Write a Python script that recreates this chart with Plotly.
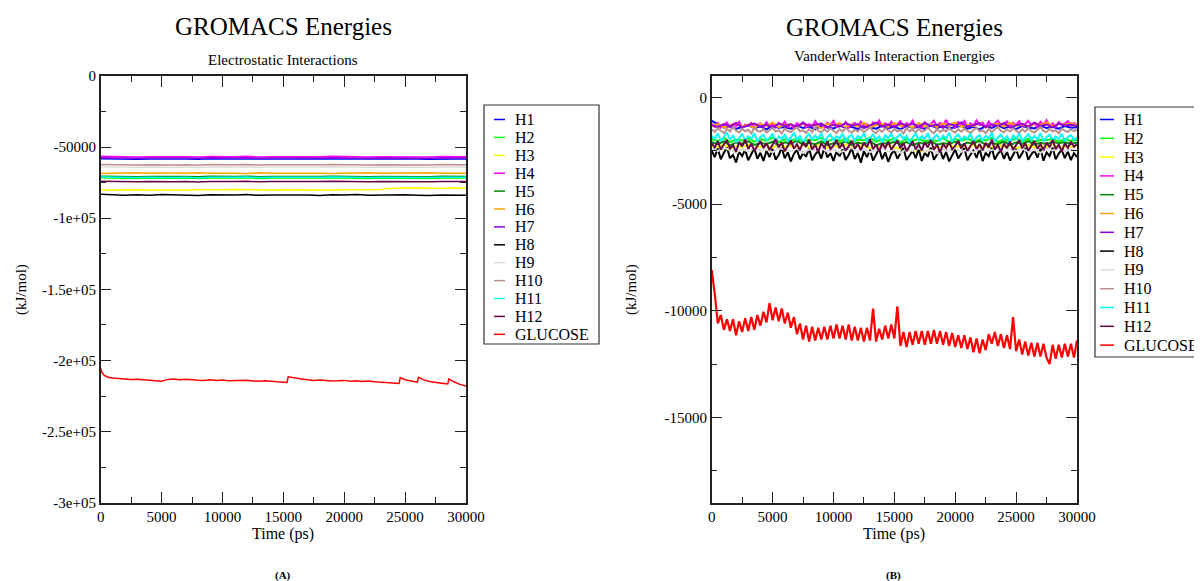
import numpy as np
import plotly.graph_objects as go

# page offset of the figure inside the html body (default 8px body margin)
OFF = 8
PAGE_W, PAGE_H = 1202, 581
W, H = PAGE_W - OFF, PAGE_H - OFF
FONT = "Liberation Serif, 'Times New Roman', Times, serif"

NAMES = ["H1", "H2", "H3", "H4", "H5", "H6", "H7", "H8", "H9", "H10", "H11", "H12", "GLUCOSE"]
COLORS = ["#0000ff", "#00ff00", "#ffff00", "#ff00ff", "#008b00", "#ffa500", "#9400d3",
          "#000000", "#dcdcdc", "#bc8f8f", "#00ffff", "#670748", "#ff0000"]

# ---------------- (A) Electrostatic interactions (kJ/mol), sampled every 1000 ps ----------------
ELEC_H1 = [-58100,-58400,-58200,-58500,-58300,-58200,-58400,-58300,-58600,-58200,-58400,-58300,-58100,-58500,-58300,-58400,-58200,-58500,-58300,-58100,-58400,-58200,-58500,-58300,-58400,-58100,-58300,-58500,-58200,-58400,-58300]
ELEC_H2 = [-71600,-71900,-71700,-72000,-71800,-71600,-71900,-71800,-72100,-71700,-71900,-71800,-71600,-72000,-71800,-71900,-71700,-72000,-71800,-71600,-71900,-71700,-72000,-71800,-71900,-71600,-71800,-72000,-71700,-71900,-71800]
ELEC_H3 = [-80200,-80000,-80300,-79900,-80100,-80200,-79800,-80100,-79900,-80200,-80000,-79800,-80100,-80000,-80200,-79900,-80100,-79800,-80000,-80200,-79900,-80100,-80000,-79800,-79000,-78800,-79000,-78700,-78900,-78800,-78900]
ELEC_H4 = [-56500,-56800,-56600,-56900,-56700,-56500,-56800,-56700,-57000,-56600,-56800,-56700,-56500,-56900,-56700,-56800,-56600,-56900,-56700,-56500,-56800,-56600,-56900,-56700,-56800,-56500,-56700,-56900,-56600,-56800,-56700]
ELEC_H5 = [-70400,-70700,-70500,-70800,-70600,-70400,-70700,-70600,-70900,-70500,-70700,-70600,-70400,-70800,-70600,-70700,-70500,-70800,-70600,-70400,-70700,-70500,-70800,-70600,-70700,-70400,-70600,-70800,-70500,-70700,-70600]
ELEC_H6 = [-68500,-68200,-68400,-68100,-68300,-68500,-68200,-68300,-68000,-68400,-68200,-68300,-68500,-68100,-68300,-68200,-68400,-68100,-68300,-68500,-68200,-68400,-68100,-68300,-68200,-68500,-68300,-68100,-68400,-68200,-68300]
ELEC_H7 = [-57400,-57700,-57500,-57800,-57600,-57400,-57700,-57600,-57900,-57500,-57700,-57600,-57400,-57800,-57600,-57700,-57500,-57800,-57600,-57400,-57700,-57500,-57800,-57600,-57700,-57400,-57600,-57800,-57500,-57700,-57600]
ELEC_H8 = [-83200,-83600,-83900,-83500,-83800,-83400,-83700,-83600,-84000,-83500,-83800,-83600,-83400,-83900,-83700,-83500,-83800,-83600,-84000,-83500,-83700,-83400,-83800,-83600,-83900,-83500,-83800,-84100,-83700,-84000,-83800]
ELEC_H9 = [-63800,-64100,-63900,-64200,-64000,-63800,-64100,-64000,-64300,-63900,-64100,-64000,-63800,-64200,-64000,-64100,-63900,-64200,-64000,-63800,-64100,-63900,-64200,-64000,-64100,-63800,-64000,-64200,-63900,-64100,-64000]
ELEC_H10 = [-62200,-62500,-62300,-62600,-62400,-62200,-62500,-62400,-62700,-62300,-62500,-62400,-62200,-62600,-62400,-62500,-62300,-62600,-62400,-62200,-62500,-62300,-62600,-62400,-62500,-62200,-62400,-62600,-62300,-62500,-62400]
ELEC_H11 = [-71000,-71300,-71100,-71400,-71200,-71000,-71300,-71200,-71500,-71100,-71300,-71200,-71000,-71400,-71200,-71300,-71100,-71400,-71200,-71000,-71300,-71100,-71400,-71200,-71300,-71000,-71200,-71400,-71100,-71300,-71200]
ELEC_H12 = [-74000,-74300,-74100,-74400,-74200,-74000,-74300,-74200,-74500,-74100,-74300,-74200,-74000,-74400,-74200,-74300,-74100,-74400,-74200,-74000,-74300,-74100,-74400,-74200,-74300,-74000,-74200,-74400,-74100,-74300,-74200]
ELEC_TIME = [0,1000,2000,3000,4000,5000,6000,7000,8000,9000,10000,11000,12000,13000,14000,15000,
             16000,17000,18000,19000,20000,21000,22000,23000,24000,25000,26000,27000,28000,29000,30000]

ELEC_GLU_TIME = [0,100,300,600,1000,1500,2000,2500,3000,3500,4000,4500,5000,5500,6000,6500,7000,7500,
                 8000,8500,9000,9500,10000,10500,11000,11500,12000,12500,13000,13500,14000,14500,15000,
                 15300,15400,16000,16500,17000,17500,18000,18500,19000,19500,20000,20500,21000,21500,
                 22000,22500,23000,23500,24000,24500,24600,25000,25500,26000,26100,26500,27000,27500,
                 28000,28500,28600,29000,29500,30000]
ELEC_GLU = [-205500,-208500,-210500,-211800,-212300,-212700,-213000,-213300,-213200,-213700,-214000,
            -214200,-214600,-213300,-213000,-213500,-213200,-213800,-213900,-214100,-213600,-214000,
            -213800,-214300,-214000,-214200,-213900,-214400,-214600,-214200,-214800,-215000,-215300,
            -215500,-211500,-212500,-213000,-213600,-214000,-213800,-214200,-214500,-214300,-214000,
            -214600,-214300,-214800,-214500,-215000,-215300,-215600,-215800,-216200,-212000,-213500,
            -214500,-215300,-211800,-213500,-214800,-215600,-216000,-216500,-213000,-215000,-216800,-218000]

# ---------------- (B) Van der Waals interaction energies (kJ/mol), evenly sampled over 0-30000 ps ----------------
VDW_H1 = [-1100,-1250,-1420,-1350,-1480,-1380,-1300,-1450,-1360,-1500,-1330,-1420,-1390,-1470,-1310,-1440,-1370,-1500,-1340,-1410,
          -1460,-1320,-1430,-1380,-1490,-1350,-1400,-1470,-1330,-1450,-1370,-1500,-1340,-1420,-1390,-1480,-1310,-1440,-1360,-1460,
          -1400,-1330,-1470,-1380,-1500,-1350,-1430,-1300,-1450,-1370,-1490,-1340,-1410,-1460,-1320,-1440,-1380,-1470,-1350,-1420,-1400]
VDW_H2 = [-1950,-2050,-1900,-2100,-1980,-2020,-1920,-2080,-1960,-2040,-1890,-2110,-1970,-2030,-1940,-2070,-1990,-2010,-1910,-2090,
          -1950,-2060,-1930,-2100,-1980,-2020,-1900,-2080,-1970,-2040,-1920,-2110,-1960,-2030,-1940,-2070,-1990,-2050,-1910,-2090,
          -1960,-2030,-1930,-2080,-1980,-2020,-1900,-2100,-1970,-2040,-1920,-2060,-1950,-2090,-1990,-2010,-1940,-2070,-1960,-2050,-2000]
VDW_H3 = [-2250,-2350,-2200,-2400,-2280,-2330,-2220,-2380,-2300,-2260,-2360,-2210,-2320,-2270,-2390,-2240,-2340,-2290,-2230,-2370,
          -2280,-2330,-2210,-2360,-2300,-2250,-2390,-2270,-2320,-2230,-2350,-2400,-2460,-2520,-2480,-2550,-2420,-2300,-2360,-2250,
          -2330,-2280,-2390,-2230,-2340,-2290,-2370,-2220,-2310,-2260,-2380,-2300,-2240,-2350,-2270,-2330,-2210,-2360,-2290,-2320,-2280]
VDW_H4 = [-1250,-1380,-1200,-1420,-1300,-1180,-1400,-1260,-1350,-1150,-1420,-1280,-1330,-1200,-1440,-1290,-1220,-1380,-1170,-1350,
          -1260,-1410,-1200,-1330,-1150,-1390,-1270,-1440,-1210,-1310,-1180,-1400,-1250,-1360,-1120,-1330,-1230,-1420,-1190,-1300,
          -1100,-1380,-1240,-1350,-1160,-1410,-1280,-1200,-1370,-1140,-1320,-1250,-1430,-1180,-1300,-1080,-1360,-1220,-1400,-1150,
          -1340,-1260,-1120,-1390,-1210,-1300,-1090,-1370,-1230,-1420,-1170,-1330,-1250,-1100,-1380,-1200,-1310,-1060,-1350,-1240,
          -1410,-1160,-1290,-1110,-1370,-1220,-1330,-1080,-1300,-1190,-1400,-1140,-1350,-1230,-1090,-1320,-1270,-1130,-1380,-1200,
          -1300,-1120,-1360,-1250,-1100,-1330,-1210,-1390,-1150,-1280,-1070,-1340,-1220,-1380,-1160,-1300,-1240,-1110,-1350,-1200,-1290]
VDW_H5 = [-2100,-2200,-2060,-2250,-2120,-2180,-2050,-2230,-2140,-2190,-2080,-2260,-2110,-2170,-2040,-2220,-2130,-2200,-2070,-2240,
          -2150,-2180,-2060,-2230,-2120,-2190,-2050,-2250,-2140,-2170,-2080,-2210,-2100,-2240,-2130,-2180,-2060,-2220,-2150,-2190,
          -2070,-2250,-2120,-2170,-2040,-2230,-2140,-2200,-2060,-2240,-2110,-2180,-2050,-2220,-2130,-2190,-2080,-2150,-2100,-2200,-2120]
VDW_H6 = [-1350,-1250,-1420,-1300,-1200,-1380,-1280,-1440,-1230,-1350,-1180,-1400,-1300,-1260,-1420,-1220,-1350,-1290,-1450,-1240,
          -1320,-1200,-1400,-1270,-1360,-1190,-1420,-1300,-1250,-1380,-1210,-1340,-1280,-1430,-1200,-1360,-1260,-1400,-1220,-1320,
          -1180,-1380,-1270,-1340,-1200,-1410,-1290,-1230,-1370,-1190,-1330,-1260,-1400,-1220,-1300,-1170,-1350,-1240,-1280,-1200,-1300]
VDW_H7 = [-1300,-1400,-1250,-1360,-1200,-1420,-1310,-1230,-1380,-1280,-1440,-1220,-1340,-1260,-1400,-1190,-1350,-1300,-1230,-1410,
          -1280,-1370,-1210,-1330,-1250,-1440,-1300,-1190,-1360,-1270,-1410,-1220,-1320,-1240,-1390,-1200,-1350,-1280,-1430,-1250,
          -1330,-1180,-1380,-1290,-1220,-1400,-1260,-1350,-1200,-1420,-1310,-1240,-1370,-1190,-1340,-1270,-1410,-1230,-1320,-1280,-1350]
VDW_H8 = [-2500,-2800,-2400,-2900,-2600,-2350,-2850,-2700,-3050,-2550,-2750,-2450,-2950,-2650,-2380,-2880,-2600,-2980,-2500,-2800,
          -2420,-2920,-2700,-2360,-2860,-2580,-3000,-2650,-2450,-2900,-2600,-2780,-2400,-2950,-2680,-2500,-2870,-2350,-2820,-2620,
          -2980,-2550,-2760,-2440,-2930,-2700,-2380,-2890,-2610,-3060,-2520,-2800,-2460,-2960,-2680,-2400,-2900,-2580,-3020,-2650,
          -2480,-2880,-2620,-2380,-2940,-2700,-2500,-2850,-2420,-2980,-2600,-2780,-2360,-2920,-2660,-2450,-2890,-2560,-3000,-2700,
          -2440,-2870,-2620,-2390,-2950,-2680,-2500,-2840,-2410,-2990,-2600,-2760,-2370,-2910,-2650,-2470,-2880,-2550,-2960,-2690,
          -2430,-2860,-2600,-2380,-2930,-2670,-2490,-2830,-2400,-2970,-2580,-2750,-2360,-2900,-2640,-2460,-2850,-2540,-2940,-2620,-2800]
VDW_H9 = [-2400,-2520,-2350,-2480,-2600,-2420,-2550,-2380,-2500,-2450,-2580,-2360,-2470,-2530,-2400,-2610,-2440,-2500,-2370,-2560,
          -2430,-2590,-2460,-2380,-2520,-2410,-2570,-2480,-2350,-2540,-2460,-2600,-2420,-2510,-2390,-2550,-2470,-2620,-2440,-2500,
          -2380,-2560,-2450,-2590,-2410,-2530,-2470,-2360,-2580,-2440,-2510,-2400,-2550,-2460,-2600,-2420,-2490,-2370,-2540,-2450,-2500]
VDW_H10 = [-1500,-1620,-1450,-1580,-1680,-1480,-1600,-1400,-1560,-1650,-1470,-1590,-1520,-1690,-1440,-1570,-1610,-1490,-1650,-1530,
           -1420,-1600,-1540,-1700,-1460,-1580,-1630,-1500,-1410,-1590,-1550,-1670,-1480,-1620,-1390,-1560,-1640,-1510,-1600,-1450,
           -1580,-1680,-1490,-1610,-1430,-1570,-1660,-1520,-1600,-1460,-1640,-1540,-1400,-1590,-1680,-1500,-1620,-1450,-1570,-1650,
           -1480,-1600,-1530,-1700,-1440,-1590,-1510,-1660,-1470,-1620,-1550,-1410,-1580,-1690,-1490,-1630,-1520,-1600,-1430,-1570,
           -1650,-1500,-1610,-1460,-1580,-1680,-1530,-1420,-1600,-1550,-1670,-1480,-1620,-1510,-1390,-1570,-1640,-1500,-1600,-1450,
           -1560,-1680,-1490,-1610,-1440,-1590,-1650,-1520,-1400,-1580,-1630,-1470,-1600,-1540,-1690,-1460,-1570,-1620,-1500,-1580,-1520]
VDW_H11 = [-1800,-1950,-1700,-2050,-1850,-1650,-1980,-1780,-2100,-1880,-1720,-2000,-1820,-1940,-1680,-2080,-1860,-1760,-2020,-1900,
           -1700,-2120,-1830,-1960,-1740,-2040,-1880,-1660,-1990,-1800,-2150,-1850,-1720,-2000,-1780,-1940,-1680,-2060,-1870,-1750,
           -2010,-1820,-1950,-1700,-2090,-1860,-1760,-2030,-1810,-1930,-1670,-2070,-1890,-1740,-1990,-1830,-2110,-1780,-1920,-1690,
           -2040,-1850,-1730,-1980,-1800,-2130,-1870,-1700,-2000,-1820,-1950,-1680,-2060,-1880,-1760,-2020,-1790,-1940,-1660,-2080,
           -1860,-1740,-2010,-1830,-1960,-1700,-2100,-1870,-1770,-2030,-1810,-1930,-1650,-2050,-1880,-1750,-1990,-1820,-2120,-1790,
           -1940,-1690,-2040,-1860,-1730,-2000,-1800,-1960,-1680,-2070,-1870,-1760,-2020,-1830,-1950,-1710,-2060,-1850,-1780,-1990,-1880]
VDW_H12 = [-2150,-2350,-2050,-2450,-2200,-2000,-2400,-2250,-2550,-2100,-2300,-1980,-2420,-2180,-2500,-2260,-2050,-2380,-2150,-2470,
           -2220,-1960,-2350,-2120,-2530,-2280,-2020,-2400,-2200,-2480,-2100,-2320,-1990,-2440,-2230,-2560,-2150,-2360,-2060,-2420,
           -2250,-2000,-2380,-2170,-2500,-2290,-2040,-2410,-2190,-2470,-2120,-2340,-1970,-2430,-2210,-2540,-2160,-2370,-2080,-2450,
           -2240,-2020,-2390,-2140,-2520,-2300,-2060,-2430,-2200,-2490,-2110,-2350,-2000,-2460,-2220,-2580,-2180,-2380,-2090,-2440,
           -2270,-2030,-2400,-2160,-2510,-2280,-2050,-2420,-2190,-2480,-2130,-2360,-1980,-2450,-2230,-2550,-2170,-2390,-2070,-2460,
           -2250,-2010,-2380,-2150,-2500,-2290,-2040,-2410,-2200,-2470,-2120,-2340,-1990,-2430,-2210,-2530,-2160,-2370,-2080,-2320,-2200]
VDW_GLU = [-8100,-9200,-10600,-10200,-10900,-10400,-10950,-10400,-11150,-10500,-11000,-10350,-10950,-10300,-10900,-10200,
           -10700,-10050,-10550,-9650,-10450,-9850,-10500,-9900,-10600,-10100,-10800,-10300,-11100,-10600,-11350,-10700,
           -11450,-10750,-11400,-10800,-11350,-10750,-11350,-10700,-11300,-10650,-11300,-10700,-11350,-10650,-11400,-10750,
           -11400,-10800,-11450,-10800,-11400,-9900,-11450,-10850,-11350,-10700,-11300,-10650,-11300,-9800,-11650,-11000,
           -11700,-11000,-11600,-10950,-11550,-10950,-11600,-10950,-11550,-10900,-11550,-10950,-11600,-11000,-11650,-11050,
           -11700,-11150,-11750,-11150,-11800,-11250,-11950,-11300,-12000,-11350,-11850,-11100,-11550,-11000,-11650,-11100,
           -11750,-11150,-11800,-10300,-11900,-11350,-12050,-11450,-12100,-11500,-12150,-11500,-12150,-11550,-12200,-12500,
           -11600,-12250,-11600,-12200,-11550,-12150,-11550,-12200,-11400]

ELEC_SERIES = [ELEC_H1, ELEC_H2, ELEC_H3, ELEC_H4, ELEC_H5, ELEC_H6, ELEC_H7, ELEC_H8,
               ELEC_H9, ELEC_H10, ELEC_H11, ELEC_H12]
VDW_SERIES = [VDW_H1, VDW_H2, VDW_H3, VDW_H4, VDW_H5, VDW_H6, VDW_H7, VDW_H8,
              VDW_H9, VDW_H10, VDW_H11, VDW_H12, VDW_GLU]

X_TICKS = [0, 5000, 10000, 15000, 20000, 25000, 30000]
X_LABELS = ["0", "5000", "10000", "15000", "20000", "25000", "30000"]
X_MINOR = [2500, 7500, 12500, 17500, 22500, 27500]
A_Y_TICKS = [0, -50000, -100000, -150000, -200000, -250000, -300000]
A_Y_LABELS = ["0", "-50000", "-1e+05", "-1.5e+05", "-2e+05", "-2.5e+05", "-3e+05"]
A_Y_MINOR = [-25000, -75000, -125000, -175000, -225000, -275000]
B_Y_TICKS = [0, -5000, -10000, -15000]
B_Y_LABELS = ["0", "-5000", "-10000", "-15000"]
B_Y_MINOR = [-2500, -7500, -12500, -17500]


def px_x(v):
    return (v - OFF) / W


def px_y(v):
    return 1 - (v - OFF) / H


fig = go.Figure()

for name, col, vals in zip(NAMES[:12], COLORS[:12], ELEC_SERIES):
    fig.add_trace(go.Scatter(x=ELEC_TIME, y=vals, mode="lines", name=name, showlegend=False,
                             line=dict(color=col, width=1.5), xaxis="x", yaxis="y"))
fig.add_trace(go.Scatter(x=ELEC_GLU_TIME, y=ELEC_GLU, mode="lines", name="GLUCOSE", showlegend=False,
                         line=dict(color=COLORS[12], width=1.5), xaxis="x", yaxis="y"))

for name, col, vals in zip(NAMES, COLORS, VDW_SERIES):
    t = np.linspace(0, 30000, len(vals))
    fig.add_trace(go.Scatter(x=t, y=vals, mode="lines", name=name, showlegend=False,
                             line=dict(color=col, width=2.0 if name != "GLUCOSE" else 2.2),
                             xaxis="x2", yaxis="y2"))

AX = dict(showline=True, linecolor="#222", linewidth=1.5, mirror="allticks", ticks="inside",
          ticklen=11, tickwidth=1.3, tickcolor="#222", showgrid=False, zeroline=False,
          tickfont=dict(family=FONT, size=15, color="black"), tickmode="array")
MINOR = dict(ticks="inside", ticklen=6, tickcolor="#222", tickwidth=1.3, showgrid=False)

fig.update_layout(
    width=W, height=H, margin=dict(l=0, r=0, t=0, b=0, autoexpand=False),
    paper_bgcolor="white", plot_bgcolor="white",
    font=dict(family=FONT, color="black"),
    showlegend=False,
    xaxis=dict(AX, domain=[px_x(100.7), px_x(466)], range=[0, 30000], tickvals=X_TICKS,
               ticktext=X_LABELS, minor=dict(MINOR, tickvals=X_MINOR), anchor="y"),
    yaxis=dict(AX, domain=[px_y(502.7), px_y(76)], range=[-300000, 0], tickvals=A_Y_TICKS,
               ticktext=A_Y_LABELS, minor=dict(MINOR, tickvals=A_Y_MINOR), anchor="x"),
    xaxis2=dict(AX, domain=[px_x(711.7), px_x(1077)], range=[0, 30000], tickvals=X_TICKS,
                ticktext=X_LABELS, minor=dict(MINOR, tickvals=X_MINOR), anchor="y2"),
    yaxis2=dict(AX, domain=[px_y(502.7), px_y(76)], range=[-19000, 1000], tickvals=B_Y_TICKS,
                ticktext=B_Y_LABELS, minor=dict(MINOR, tickvals=B_Y_MINOR), anchor="x2"),
)


def ann(text, x, y, size, angle=0, bold=False, xanchor="center"):
    if bold:
        text = "<b>" + text + "</b>"
    fig.add_annotation(text=text, x=px_x(x), y=px_y(y), xref="paper", yref="paper",
                       showarrow=False, textangle=angle, xanchor=xanchor, yanchor="middle",
                       font=dict(family=FONT, size=size, color="black"))


# legends drawn as a framed box, a short coloured line and a label per series
def legend(box_l, box_t, box_r, box_b, line_l, line_r, text_l, first_y, step):
    fig.add_shape(type="rect", xref="paper", yref="paper",
                  x0=px_x(box_l), x1=px_x(box_r), y0=px_y(box_b), y1=px_y(box_t),
                  line=dict(color="#333", width=1.2), fillcolor="white", layer="above")
    for i, (name, col) in enumerate(zip(NAMES, COLORS)):
        yy = first_y + i * step
        fig.add_shape(type="line", xref="paper", yref="paper",
                      x0=px_x(line_l), x1=px_x(line_r), y0=px_y(yy), y1=px_y(yy),
                      line=dict(color=col, width=1.5), layer="above")
        ann(name, text_l, yy, 16, xanchor="left")


legend(484, 105, 599, 344, 494, 505, 513, 119.5, 17.9)
legend(1095, 107, 1240, 357, 1100, 1114, 1122, 119.5, 18.8)

ann("GROMACS Energies", 283.4, 26, 25)
ann("Electrostatic Interactions", 283.4, 60, 15)
ann("GROMACS Energies", 894.4, 27, 25)
ann("VanderWalls Interaction Energies", 894.4, 56, 15)
ann("(kJ/mol)", 21, 290, 15, angle=-90)
ann("(kJ/mol)", 631, 290, 15, angle=-90)
ann("Time (ps)", 283.4, 534, 16)
ann("Time (ps)", 894.4, 534, 16)
ann("(A)", 283.4, 575, 11, bold=True)
ann("(B)", 893, 575, 11, bold=True)

fig.write_html("out.html")
